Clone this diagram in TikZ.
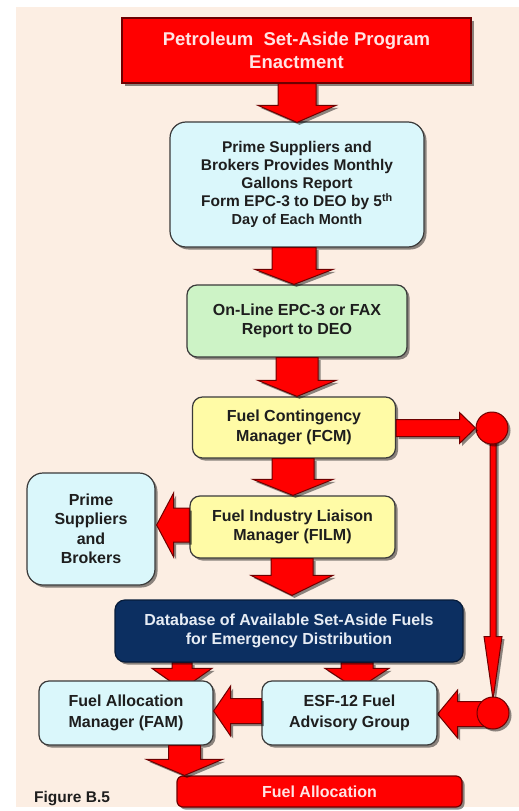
\documentclass[tikz,border=0pt]{standalone}
\usepackage{fontspec}
\setmainfont{Liberation Sans}
\usetikzlibrary{shadows,calc}
\pgfdeclarelayer{back}
\pgfdeclarelayer{bg}
\pgfsetlayers{back,bg,main}
\definecolor{peach}{HTML}{FCEEE3}
\definecolor{redfill}{HTML}{FF0000}
\definecolor{redline}{HTML}{6E0000}
\definecolor{boxline}{HTML}{3A3A3A}
\definecolor{cyanfill}{HTML}{DAF7FB}
\definecolor{greenfill}{HTML}{CDF3C6}
\definecolor{yellowfill}{HTML}{FFFBA6}
\definecolor{navyfill}{HTML}{0C2F61}
\definecolor{txt}{HTML}{1E1E1E}
\definecolor{pinktxt}{HTML}{FFE4E4}
\definecolor{navytxt}{HTML}{E6ECF4}
\newcommand\arrdown[5]{%
  \draw[blk] let \p1=(#1), \p2=(#2) in
  (\x2-#3pt,\y1) -- (\x2+#3pt,\y1) -- (\x2+#3pt,\y2+#5pt) -- (\x2+#4pt,\y2+#5pt)
  -- (\x2,\y2) -- (\x2-#4pt,\y2+#5pt) -- (\x2-#3pt,\y2+#5pt) -- cycle;}
\newcommand\arrleft[5]{%
  \draw[blk] let \p1=(#1), \p2=(#2) in
  (\x1,\y2-#3pt) -- (\x1,\y2+#3pt) -- (\x2+#5pt,\y2+#3pt) -- (\x2+#5pt,\y2+#4pt)
  -- (\x2,\y2) -- (\x2+#5pt,\y2-#4pt) -- (\x2+#5pt,\y2-#3pt) -- cycle;}
\newcommand\arrright[5]{%
  \draw[blk] let \p1=(#1), \p2=(#2) in
  (\x1,\y2-#3pt) -- (\x2-#5pt,\y2-#3pt) -- (\x2-#5pt,\y2-#4pt) -- (\x2,\y2)
  -- (\x2-#5pt,\y2+#4pt) -- (\x2-#5pt,\y2+#3pt) -- (\x1,\y2+#3pt) -- cycle;}
\begin{document}
\begin{tikzpicture}[x=1pt,y=-1pt,
  shad/.style={drop shadow={shadow xshift=2.5pt,shadow yshift=-2.5pt,opacity=0.45,fill=black}},
  box/.style={draw=boxline,line width=1.2pt,rounded corners=10pt,align=center,text=txt,
    font=\bfseries\fontsize{16}{19.5}\selectfont,inner sep=0pt,shad},
  redbox/.style={box,fill=redfill,draw=redline,text=pinktxt},
  cyanbox/.style={box,fill=cyanfill},
  greenbox/.style={box,fill=greenfill},
  yellowbox/.style={box,fill=yellowfill},
  navybox/.style={box,fill=navyfill,draw=navyfill!60!black,text=navytxt},
  blk/.style={fill=redfill,draw=redline,line width=1pt,line join=miter,shad},
  dot/.style={circle,fill=redfill,draw=redline,line width=1pt,minimum size=32pt,inner sep=0pt,shad}]
\useasboundingbox (0,0) rectangle (519,811);
\begin{pgfonlayer}{back}
  \fill[white] (0,0) rectangle (519,811);
  \fill[peach] (16,7) rectangle (519,807);
\end{pgfonlayer}

\node[redbox,rounded corners=0pt,minimum width=349pt,minimum height=65pt,
  font=\bfseries\fontsize{18.5}{23}\selectfont] (top) at (296.5,50.5)
  {Petroleum\ \ Set-Aside Program\\Enactment};
\node[cyanbox,rounded corners=16pt,minimum width=254pt,minimum height=125pt,
  font=\bfseries\fontsize{15.5}{18}\selectfont] (rep) at (297,184.5)
  {Prime Suppliers and\\Brokers Provides Monthly\\Gallons Report\\Form EPC-3 to DEO by 5\textsuperscript{th}\\{\fontsize{14.5}{16}\selectfont Day of Each Month}};
\node[greenbox,minimum width=220pt,minimum height=72pt] (onl) at (297,321)
  {On-Line EPC-3 or FAX\\Report to DEO};
\node[yellowbox,minimum width=203pt,minimum height=61pt] (fcm) at (294,427.5)
  {Fuel Contingency\\Manager (FCM)};
\node[yellowbox,minimum width=205pt,minimum height=62pt] (film) at (292.5,527)
  {Fuel Industry Liaison\\Manager (FILM)};
\node[cyanbox,rounded corners=16pt,minimum width=128pt,minimum height=112pt] (psb) at (91,529)
  {Prime\\Suppliers\\and\\Brokers};
\node[navybox,minimum width=348pt,minimum height=62pt] (db) at (289,631)
  {Database of Available Set-Aside Fuels\\for Emergency Distribution};
\node[cyanbox,minimum width=174pt,minimum height=64pt,font=\bfseries\fontsize{16}{21}\selectfont] (fam) at (126,713)
  {Fuel Allocation\\Manager (FAM)};
\node[cyanbox,minimum width=175pt,minimum height=64pt,font=\bfseries\fontsize{16}{21}\selectfont] (esf) at (349.5,713)
  {ESF-12 Fuel\\Advisory Group};
\node[redbox,rounded corners=6pt,minimum width=285pt,minimum height=31pt] (fa) at (319.5,791.5)
  {Fuel Allocation};
\node[anchor=west,font=\bfseries\fontsize{15.5}{17}\selectfont,text=txt,inner sep=0pt] (fig) at (34,799) {Figure B.5};
\node[dot] (c1) at (492,428) {};
\node[dot] (c2) at (493,713) {};

% main flow arrows
\arrdown{top.south}{$(rep.north)+(0,1)$}{19}{39}{17}
\arrdown{rep.south}{$(onl.north)+(-3,0)$}{22}{39}{15}
\arrdown{onl.south}{$(fcm.north)+(3,0)$}{21}{39}{16}
\arrdown{fcm.south}{$(film.north)+(0.5,0)$}{21}{40}{16}
\arrdown{film.south}{$(db.north)+(3,-4)$}{21}{41}{20}
\arrdown{fam.south}{$(fa.north)+(-135,0)$}{16}{38}{16}
\arrleft{film.west}{$(psb.east)+(1,-4)$}{17}{32}{17}
\arrleft{esf.west}{$(fam.east)+(0,-2)$}{12.5}{25}{17}
\arrright{fcm.east}{$(c1.west)+(0,0)$}{8.5}{15.5}{16}

\begin{pgfonlayer}{bg}
  \arrdown{db.south}{$(fam.north)+(56,9)$}{10}{30}{21}
  \arrdown{db.south}{$(esf.north)+(7.5,9)$}{16}{32}{21}
  \arrdown{c1.center}{$(c2.north)+(0,3)$}{3}{9}{63}
  \arrleft{c2.center}{$(esf.east)+(0,1)$}{12.5}{24}{20}
\end{pgfonlayer}
\end{tikzpicture}
\end{document}
